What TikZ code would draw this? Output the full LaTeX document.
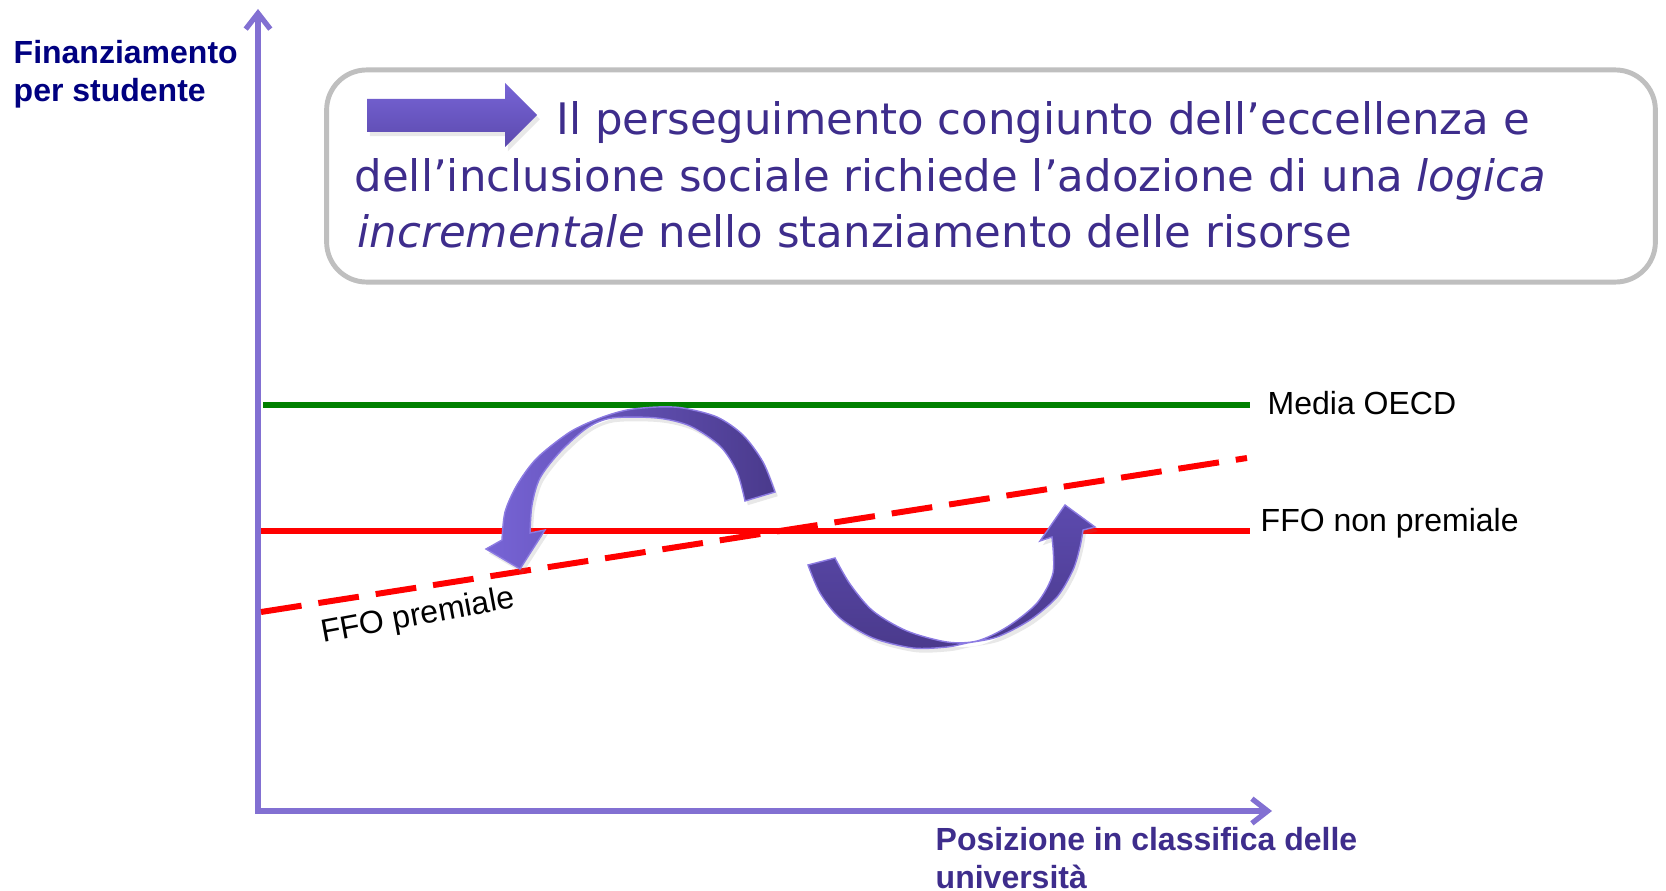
\documentclass[tikz,border=0pt]{standalone}
\usepackage{fontspec}
\setmainfont{Liberation Sans}
\newfontfamily\tahoma{DejaVu Sans}
\usetikzlibrary{arrows.meta,shadows}
\definecolor{axisc}{HTML}{8270D2}
\definecolor{navyc}{HTML}{000080}
\definecolor{txtc}{HTML}{3E2D8C}
\definecolor{oecd}{HTML}{008000}
\definecolor{ffo}{HTML}{FF0000}
\definecolor{boxc}{HTML}{BFBFBF}
\definecolor{arrL}{HTML}{7764D6}
\definecolor{arrM}{HTML}{5C4AAE}
\definecolor{arrD}{HTML}{4A3A8C}
\definecolor{arrE}{HTML}{8C7BE2}
\begin{document}
\begin{tikzpicture}[x=0.01cm,y=-0.01cm,
  axisline/.style={draw=axisc,line width=1.5pt,line join=miter,
    {Straight Barb[length=4.5pt,width=7pt]}-{Straight Barb[length=4.5pt,width=7pt]}},
  refline/.style={line width=1.6pt},
  lbl/.style={font=\fontsize{9.1}{10.5}\selectfont,inner sep=0pt},
  axlbl/.style={font=\fontsize{9.1}{10.8}\selectfont\bfseries,inner sep=0pt,align=left},
  boxtext/.style={font=\tahoma\fontsize{12.35}{15}\selectfont,text=txtc,inner sep=0pt,anchor=base west},
  softshadow/.style={drop shadow={opacity=0.18,shadow xshift=0.8pt,shadow yshift=-1.2pt}},
  curvearrow/.style={draw=arrE,line width=0.4pt,softshadow},
  roundbox/.style={draw=boxc,line width=1.4pt,rounded corners=0.4cm,fill=white,inner sep=0pt}
]
\useasboundingbox (0,0) rectangle (1666,891);

% axes
\coordinate (O) at (258,811);
\coordinate (Ytip) at (258,9);
\coordinate (Xtip) at (1272,811);
\draw[axisline] (Ytip) -- (O) -- (Xtip);

\node[axlbl,text=navyc,anchor=north west] (ylab) at (13,40) {Finanziamento\\per studente};
\node[axlbl,text=txtc,anchor=north west] (xlab) at (935,827) {Posizione in classifica delle\\università};

% text box
\node[roundbox,minimum width=13.28cm,minimum height=2.12cm] (box) at (991,176) {};
\path[top color=arrL,bottom color=arrM,softshadow] (367,99) -- (505,99) -- (505,83) -- (537,115) -- (505,147) -- (505,132) -- (367,132) -- cycle;
\node[boxtext] (t1) at (556,135) {Il perseguimento congiunto dell’eccellenza e};
\node[boxtext] (t2) at (354,192) {dell’inclusione sociale richiede l’adozione di una \textit{logica}};
\node[boxtext] (t3) at (357,248) {\textit{incrementale} nello stanziamento delle risorse};

% reference lines
\coordinate (g1) at (263,405);
\coordinate (g2) at (1250,405);
\coordinate (r1) at (261,531);
\coordinate (r2) at (1250,531);
\coordinate (d1) at (261,612);
\coordinate (d2) at (1247,458);
\draw[refline,draw=oecd] (g1) -- (g2);
\draw[refline,draw=ffo] (r1) -- (r2);
\draw[refline,draw=ffo,line width=1.7pt,dash pattern=on 0.41cm off 0.17cm] (d1) -- (d2);

\node[lbl,anchor=west] (lo) at (1267,403) {Media OECD};
\node[lbl,anchor=west] (lr) at (1260,523) {FFO non premiale};
\node[lbl,rotate=10.5] (lp) at (418,617) {FFO premiale};

% upper curved arrow
\path[curvearrow,left color=arrL,right color=arrD]
  plot[smooth] coordinates {(775,492) (763,462) (743,435) (717,417) (683,408) (657,407) (627,410) (600,418) (570,432) (537,458) (517,485) (505,512) (502,540)}
  -- (486,549) -- (520,569) -- (545,530) -- (530,533)
  -- plot[smooth] coordinates {(530,533) (532,505) (540,478) (560,452) (587,428) (612,418) (657,418) (690,426) (720,446) (737,472) (745,501)}
  -- cycle;

% lower curved arrow
\path[curvearrow,top color=arrM,bottom color=arrD]
  plot[smooth] coordinates {(808,565) (820,593) (840,618) (873,638) (913,648) (947,647) (967,643) (997,637) (1030,620) (1057,597) (1073,570) (1080,547) (1083,530)}
  -- (1095,527) -- (1065,505) -- (1040,541) -- (1052,537)
  -- plot[smooth] coordinates {(1052,537) (1053,573) (1037,603) (1007,627) (977,641) (947,642) (907,631) (873,611) (850,584) (835,558)}
  -- cycle;
\end{tikzpicture}
\end{document}
